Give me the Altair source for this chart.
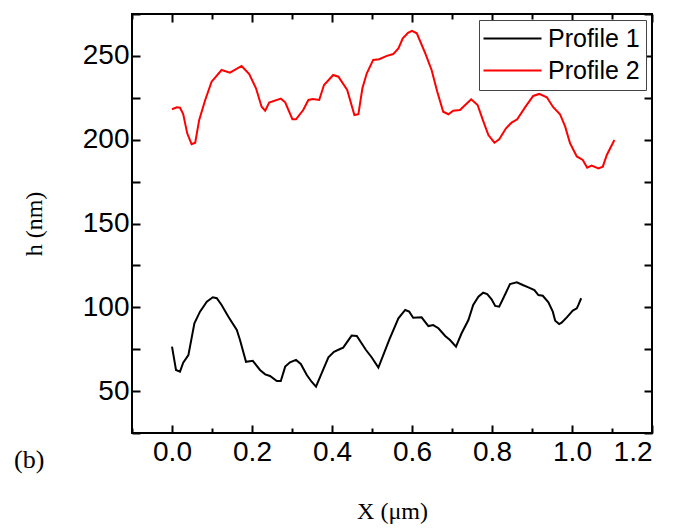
import altair as alt
import pandas as pd

series_names = ["Profile 1", "Profile 2"]
series_colors = ["#000000", "#ff0000"]

x1 = [0.000, 0.010, 0.020, 0.028, 0.041, 0.056, 0.070, 0.087, 0.102, 0.112,
      0.124, 0.141, 0.162, 0.170, 0.185, 0.202, 0.220, 0.233, 0.245, 0.262,
      0.272, 0.283, 0.295, 0.310, 0.322, 0.337, 0.349, 0.360, 0.374, 0.391,
      0.405, 0.420, 0.428, 0.449, 0.462, 0.485, 0.499, 0.516, 0.543, 0.566,
      0.583, 0.593, 0.603, 0.624, 0.641, 0.653, 0.666, 0.683, 0.695, 0.710,
      0.724, 0.741, 0.753, 0.766, 0.778, 0.788, 0.799, 0.808, 0.818, 0.833,
      0.845, 0.862, 0.877, 0.891, 0.906, 0.916, 0.927, 0.941, 0.952, 0.958,
      0.968, 0.974, 0.987, 1.002, 1.012, 1.016, 1.023]
h1 = [76.5, 62.6, 61.6, 66.9, 71.5, 90.5, 97.4, 103.3, 106.0, 105.4,
      101.4, 94.4, 86.5, 80.5, 67.5, 68.1, 62.6, 60.0, 59.0, 56.0,
      56.0, 64.6, 67.2, 68.6, 66.2, 59.6, 55.6, 52.6, 60.6, 70.2,
      73.5, 75.1, 75.9, 83.1, 82.9, 74.5, 70.2, 64.0, 80.5, 93.4,
      98.4, 97.4, 93.8, 94.0, 88.8, 89.4, 87.5, 82.9, 80.5, 76.5,
      84.5, 92.4, 101.4, 106.3, 108.7, 107.9, 104.8, 100.8, 100.4, 107.8,
      113.9, 114.9, 113.3, 111.9, 110.3, 107.3, 106.9, 103.0, 97.4, 92.0,
      90.0, 90.8, 94.0, 98.0, 99.4, 101.4, 105.4]

x2 = [0.000, 0.012, 0.020, 0.028, 0.038, 0.049, 0.058, 0.068, 0.083, 0.099,
      0.124, 0.145, 0.174, 0.193, 0.210, 0.224, 0.233, 0.243, 0.272, 0.283,
      0.301, 0.310, 0.328, 0.341, 0.352, 0.368, 0.380, 0.403, 0.416, 0.438,
      0.456, 0.466, 0.476, 0.487, 0.503, 0.518, 0.537, 0.553, 0.566, 0.577,
      0.590, 0.600, 0.612, 0.633, 0.649, 0.663, 0.678, 0.691, 0.703, 0.720,
      0.733, 0.748, 0.764, 0.777, 0.791, 0.806, 0.818, 0.835, 0.849, 0.863,
      0.883, 0.903, 0.918, 0.937, 0.953, 0.970, 0.983, 0.995, 1.012, 1.027,
      1.038, 1.049, 1.066, 1.077, 1.087, 1.106]
h2 = [218.2, 219.3, 219.1, 215.3, 203.8, 197.3, 198.2, 211.8, 223.7, 234.6,
      241.6, 240.0, 244.0, 239.2, 230.7, 219.7, 217.3, 222.1, 224.5, 222.3,
      212.2, 212.2, 217.7, 223.7, 224.3, 223.7, 232.6, 238.6, 237.6, 229.7,
      214.7, 215.2, 230.7, 239.6, 247.6, 248.0, 250.0, 251.1, 254.5, 260.5,
      263.8, 264.9, 263.5, 251.6, 241.6, 228.7, 216.7, 215.2, 217.3, 217.7,
      220.7, 224.1, 220.7, 211.8, 202.8, 198.2, 200.2, 206.8, 210.2, 212.2,
      219.4, 226.1, 227.3, 225.3, 219.4, 215.2, 207.8, 197.9, 190.0, 187.9,
      183.3, 184.5, 182.9, 183.9, 190.9, 199.8]

x_tick_values = [-0.1, 0.0, 0.1, 0.2, 0.3, 0.4, 0.5, 0.6, 0.7, 0.8, 0.9, 1.0, 1.1, 1.2]
y_tick_values = [25, 50, 75, 100, 125, 150, 175, 200, 225, 250, 275]

df = pd.concat([
    pd.DataFrame({"x": x1, "h": h1, "series": series_names[0]}),
    pd.DataFrame({"x": x2, "h": h2, "series": series_names[1]}),
], ignore_index=True)

xscale = alt.Scale(domain=[-0.1, 1.2], nice=False, zero=False)
yscale = alt.Scale(domain=[25, 275], nice=False, zero=False)

major_x = "abs(round(datum.value * 10)) % 2 === 0"
x_tick_expr = {"expr": f"{major_x} ? -8 : -5"}

label_font = "Liberation Sans"
title_font = "Liberation Serif"

base = alt.Chart(df)

lines = base.mark_line(strokeWidth=2).encode(
    x=alt.X("x:Q", scale=xscale,
            axis=alt.Axis(orient="bottom", values=x_tick_values,
                          labelExpr=f"{major_x} ? format(datum.value, '.1f') : ''",
                          tickSize=x_tick_expr, tickWidth=2, tickColor="black",
                          domain=False, grid=False, labelPadding=13,
                          labelFont=label_font, labelFontSize=28, labelColor="black",
                          title="X (μm)", titleFont=title_font, titleFontSize=24,
                          titleFontWeight="normal", titleColor="black", titlePadding=33)),
    y=alt.Y("h:Q", scale=yscale,
            axis=alt.Axis(orient="left", values=y_tick_values,
                          labelExpr="datum.value % 50 === 0 && datum.value < 275 ? datum.label : ''",
                          tickSize={"expr": "-8"}, tickWidth=2, tickColor="black",
                          domain=False, grid=False, labelPadding=11,
                          labelFont=label_font, labelFontSize=28, labelColor="black",
                          title="h (nm)", titleFont=title_font, titleFontSize=24,
                          titleFontWeight="normal", titleColor="black", titlePadding=36)),
    color=alt.Color("series:N",
                    scale=alt.Scale(domain=series_names, range=series_colors),
                    legend=alt.Legend(title=None, orient="none", legendX=347, legendY=6,
                                      symbolType="M-2.8,0H8.8", symbolSize=100,
                                      symbolStrokeWidth=2, labelFont=label_font,
                                      labelFontSize=25, labelColor="black",
                                      labelOffset=38, rowPadding=6, padding=6,
                                      strokeColor="#444444", fillColor="white")),
)

mirror = base.mark_line(opacity=0).encode(
    x=alt.X("x:Q", scale=xscale,
            axis=alt.Axis(orient="top", values=x_tick_values, labels=False, title=None,
                          tickSize=x_tick_expr, tickWidth=2, tickColor="black",
                          domain=False, grid=False)),
    y=alt.Y("h:Q", scale=yscale,
            axis=alt.Axis(orient="right", values=y_tick_values, labels=False, title=None,
                          tickSize={"expr": "-8"}, tickWidth=2, tickColor="black",
                          domain=False, grid=False)),
    detail="series:N",
)

chart = alt.layer(lines, mirror).resolve_axis(
    x="independent", y="independent"
).properties(
    width=520, height=419,
    autosize=alt.AutoSizeParams(type="none"),
    padding={"left": 132, "top": 14, "right": 33, "bottom": 96},
    title=alt.TitleParams("(b)", orient="bottom", anchor="start", frame="group",
                          font=title_font, fontSize=26, fontWeight="normal",
                          color="black", dx=-118, dy=-80),
).configure_view(stroke="black", strokeWidth=2)

chart.save("out.html", embed_options={"renderer": "svg", "actions": False})
